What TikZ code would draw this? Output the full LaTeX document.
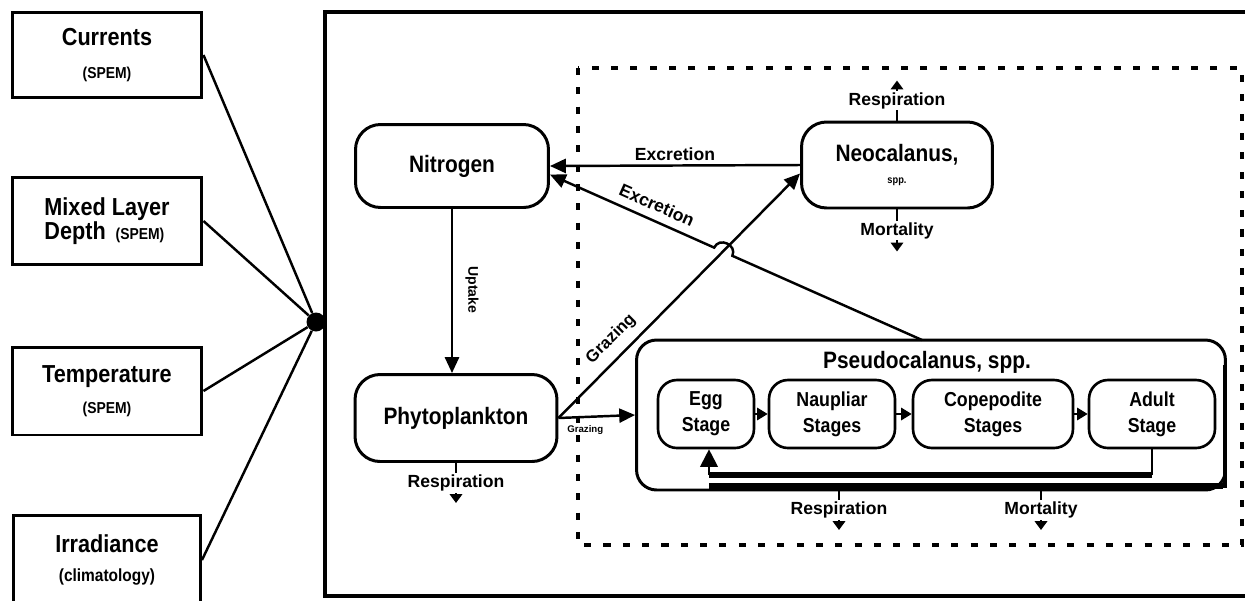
\documentclass[tikz,border=0pt]{standalone}
\usepackage{fontspec}
\setmainfont{Liberation Sans}
\newfontfamily\narrowfont{Liberation Sans}[FakeStretch=0.88]
\usetikzlibrary{arrows.meta,positioning,calc}

\tikzset{
  inbox/.style={draw, line width=1.7pt, minimum width=3.8cm, align=center,
    font=\narrowfont\bfseries\fontsize{14}{17}\selectfont},
  pool/.style={draw, line width=1.7pt, rounded corners=0.5cm, align=center,
    font=\narrowfont\bfseries\fontsize{13.5}{17}\selectfont},
  stage/.style={draw, line width=1.5pt, rounded corners=0.38cm, minimum height=1.36cm,
    align=center, font=\narrowfont\bfseries\fontsize{11.5}{15}\selectfont},
  flow/.style={line width=1.4pt, -{Triangle[length=9pt,width=8pt]}},
  loss/.style={line width=1.2pt, -{Triangle[length=5pt,width=7pt]}},
  lbl/.style={font=\bfseries\fontsize{10}{11}\selectfont, inner sep=1pt},
}

\begin{document}
\begin{tikzpicture}[x=0.02cm, y=-0.02cm]
  \useasboundingbox (0,0) rectangle (1245,600);

  % forcing inputs
  \node[inbox, minimum height=1.7cm] (currents) at (107,55)
    {Currents\\[2pt]{\bfseries\fontsize{9}{10}\selectfont (SPEM)}};
  \node[inbox, minimum height=1.74cm, align=left] (mixed) at (107,221)
    {Mixed Layer\\[-3pt]Depth {\fontsize{9}{10}\selectfont\ (SPEM)}};
  \node[inbox, minimum height=1.76cm] (temp) at (107,391)
    {Temperature\\[1pt]{\bfseries\fontsize{9}{10}\selectfont (SPEM)}};
  \node[inbox, minimum width=3.74cm, minimum height=1.8cm] (irrad) at (107,560)
    {Irradiance\\[0pt]{\bfseries\fontsize{10}{11}\selectfont (climatology)}};

  \node[circle, fill, inner sep=0pt, minimum size=0.38cm] (hub) at (316,322) {};
  \foreach \b in {currents,mixed,temp,irrad}
    \draw[line width=1.4pt] (\b.east) -- (hub);

  % model frame
  \draw[line width=2.4pt] (1245,12) -- (325,12) -- (325,596) -- (1245,596);
  \draw[line width=2.2pt, dash pattern=on 4pt off 7pt] (578,68) rectangle (1242,545);

  % pools
  \node[pool, minimum width=3.86cm, minimum height=1.66cm] (nitrogen) at (452,166) {Nitrogen};
  \node[pool, minimum width=4.04cm, minimum height=1.74cm] (phyto) at (456,418) {Phytoplankton};
  \node[pool, minimum width=3.82cm, minimum height=1.72cm] (neo) at (897,165)
    {Neocalanus,\\[-4pt]{\bfseries\fontsize{6}{7}\selectfont spp.}};
  \node[pool, rounded corners=0.4cm, minimum width=11.78cm, minimum height=3cm] (pseudo) at (931,415) {};
  \node[font=\narrowfont\bfseries\fontsize{13.5}{16}\selectfont] (pseudotitle) at (927,362) {Pseudocalanus, spp.};

  % life stages
  \node[stage, minimum width=1.92cm] (egg) at (706,414) {Egg\\Stage};
  \node[stage, minimum width=2.52cm] (naup) at (832,414) {Naupliar\\Stages};
  \node[stage, minimum width=3.2cm] (cope) at (993,414) {Copepodite\\Stages};
  \node[stage, minimum width=2.52cm] (adult) at (1152,414) {Adult\\Stage};
  \foreach \a/\b in {egg/naup,naup/cope,cope/adult}
    \draw[line width=1.2pt, -{Triangle[length=6pt,width=7pt]}] (\a) -- (\b);

  % reproduction loop
  \coordinate (fbR) at (1152,475);
  \coordinate (fbL) at (709,475);
  \draw[line width=1.2pt] (adult.south) -- (fbR);
  \draw[line width=3.4pt] (fbR) -- (fbL);
  \draw[line width=1.2pt, -{Triangle[length=10pt,width=10pt]}] (fbL) -- (fbL |- egg.south);
  \draw[line width=3.4pt] (709,486) -- (1223,486);
  \draw[line width=2pt] (1225,365) -- (1225,488);

  % fluxes
  \draw[flow] (nitrogen.south) -- (nitrogen.south |- phyto.north);
  \node[font=\bfseries\fontsize{8}{9}\selectfont, rotate=-90] (uptakelbl) at (472,290) {Uptake};

  \draw[flow] (neo.west) -- node[lbl, above=1pt] (exlbl) {Excretion} (nitrogen.east);

  \draw[flow] (phyto.east) -- (neo.185);
  \node[font=\bfseries\fontsize{9.5}{10}\selectfont, rotate=45] (grazlbl) at (611,339) {Grazing};

  \coordinate (exS) at (922,340);
  \coordinate (hopA) at (732.4,255.8);
  \coordinate (hopB) at (714.2,247.6);
  \draw[flow] (exS) -- (hopA) .. controls (737.3,244.8) and (719.1,236.6) .. (hopB) -- (nitrogen.-5);
  \node[lbl, rotate=-24] (exlbl2) at (657,205) {Excretion};

  \draw[flow] (phyto.east) -- node[pos=0.35, below=1pt, font=\bfseries\fontsize{5.5}{6}\selectfont] (grazlbl2) {Grazing} (pseudo.west);

  % losses
  \draw[loss] (neo.north) -- node[lbl, fill=white] (neoresp) {Respiration} ++(0,-40);
  \draw[loss] (neo.south) -- node[lbl, fill=white] (neomort) {Mortality} ++(0,42);
  \draw[loss] (phyto.south) -- node[lbl, fill=white] (phyresp) {Respiration} ++(0,40);
  \draw[loss] (839,490) -- node[lbl, fill=white] (psresp) {Respiration} (839,530);
  \draw[loss] (1041,490) -- node[lbl, fill=white] (psmort) {Mortality} (1041,530);
\end{tikzpicture}
\end{document}
